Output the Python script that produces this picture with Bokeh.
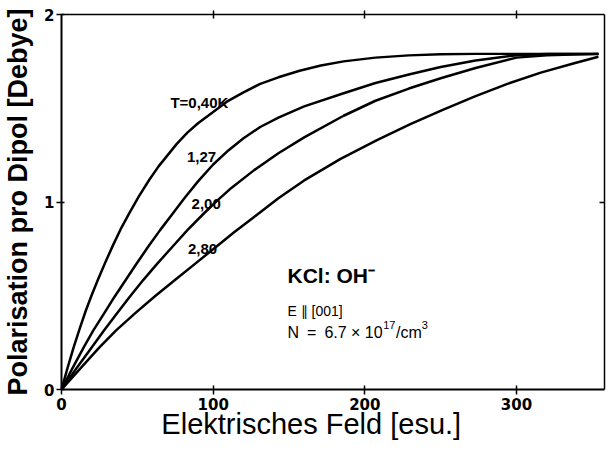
from bokeh.plotting import figure
from bokeh.models import Range1d, LinearAxis, FixedTicker, Label
from bokeh.embed import file_html
from bokeh.resources import INLINE

# Polarisation per dipole [Debye] vs. electric field [esu.] for KCl:OH-
E_T040 = [0, 4, 8, 12, 16, 20, 24, 29, 34, 39, 45, 51, 58, 64, 70, 76, 83, 90, 100, 109,
          120, 131, 143, 157, 171, 186, 207, 229, 250, 273, 300, 354]
P_T040 = [0, 0.115, 0.225, 0.325, 0.42, 0.505, 0.585, 0.68, 0.77, 0.855, 0.945, 1.03, 1.12,
          1.19, 1.25, 1.31, 1.37, 1.42, 1.48, 1.535, 1.585, 1.63, 1.665, 1.70, 1.728, 1.75,
          1.77, 1.782, 1.788, 1.79, 1.79, 1.79]

E_T127 = [0, 7, 15, 21, 28, 35, 42, 49, 57, 65, 73, 81, 90, 100, 110, 120, 131, 143, 160,
          186, 207, 229, 250, 273, 300, 320, 354]
P_T127 = [0, 0.11, 0.23, 0.315, 0.405, 0.495, 0.58, 0.665, 0.76, 0.85, 0.935, 1.02, 1.11,
          1.20, 1.275, 1.34, 1.40, 1.45, 1.51, 1.58, 1.635, 1.68, 1.72, 1.755, 1.783, 1.789, 1.79]

E_T200 = [0, 10, 20, 28, 36, 45, 54, 63, 73, 83, 94, 103, 112, 127, 143, 160, 186, 207, 229,
          250, 273, 300, 320, 354]
P_T200 = [0, 0.115, 0.225, 0.315, 0.40, 0.495, 0.585, 0.67, 0.76, 0.85, 0.94, 1.01, 1.075,
          1.17, 1.26, 1.345, 1.46, 1.54, 1.605, 1.66, 1.715, 1.77, 1.782, 1.79]

E_T280 = [0, 15, 25, 36, 49, 62, 75, 88, 101, 114, 127, 143, 160, 184, 208, 230, 251, 273,
          294, 316, 338, 354]
P_T280 = [0, 0.135, 0.225, 0.315, 0.41, 0.50, 0.585, 0.67, 0.755, 0.84, 0.92, 1.02, 1.115,
          1.23, 1.33, 1.415, 1.49, 1.565, 1.63, 1.69, 1.74, 1.775]

curve_labels = ["T=0,40K", "1,27", "2,00", "2,80"]
curve_label_E = [110, 102, 105, 102.6]
curve_label_P = [1.532, 1.239, 0.992, 0.752]

x_ticks = [0, 100, 200, 300]
y_ticks = [0, 1, 2]
top_ticks = [100, 200, 300]
right_ticks = [1]

x_title = "Elektrisches Feld [esu.]"
y_title = "Polarisation pro Dipol [Debye]"
sample_title = "KCl: OH\u207b"
field_dir = "E \u2225 [001]"
conc_parts = ["N\u2002=\u20026.7 \u00d7 10", "17", "/cm", "3"]

FONT = "Liberation Sans"
TICKFONT = "DejaVu Sans"

p = figure(width=606, height=444, x_range=Range1d(0, 358), y_range=Range1d(0, 2),
           output_backend="svg", toolbar_location=None,
           min_border_left=60, min_border_right=2, min_border_top=14, min_border_bottom=55)
p.outline_line_color = None
p.grid.visible = False
p.background_fill_color = "white"
p.border_fill_color = "white"

xa = p.xaxis[0]
xa.ticker = FixedTicker(ticks=x_ticks)
xa.axis_line_width = 2
xa.major_tick_in = 4
xa.major_tick_out = 5
xa.major_tick_line_width = 1.5
xa.minor_tick_line_color = None
xa.major_label_standoff = 3
xa.major_label_text_font = TICKFONT
xa.major_label_text_font_style = "bold"
xa.major_label_text_font_size = "15px"
xa.major_label_text_color = "black"
xa.axis_label = x_title + "\u2003\u2002"
xa.axis_label_text_font = FONT
xa.axis_label_text_font_style = "normal"
xa.axis_label_text_font_size = "29px"
xa.axis_label_text_color = "black"
xa.axis_label_standoff = -5

ya = p.yaxis[0]
ya.ticker = FixedTicker(ticks=y_ticks)
ya.axis_line_width = 2
ya.major_tick_in = 3
ya.major_tick_out = 5
ya.major_tick_line_width = 1.5
ya.minor_tick_line_color = None
ya.major_label_standoff = 2
ya.major_label_text_font = TICKFONT
ya.major_label_text_font_style = "bold"
ya.major_label_text_font_size = "15px"
ya.major_label_text_color = "black"
ya.axis_label = y_title
ya.axis_label_text_font = FONT
ya.axis_label_text_font_style = "bold"
ya.axis_label_text_font_size = "27px"
ya.axis_label_text_color = "black"
ya.axis_label_standoff = 8

top = LinearAxis(ticker=FixedTicker(ticks=top_ticks), axis_line_width=1.5,
                 major_tick_in=4, major_tick_out=4, major_tick_line_width=1.5,
                 minor_tick_line_color=None, major_label_text_font_size="1px",
                 major_label_text_color=None, major_label_standoff=0)
p.add_layout(top, "above")

right = LinearAxis(ticker=FixedTicker(ticks=right_ticks), axis_line_width=1.5,
                   major_tick_in=5, major_tick_out=0, major_tick_line_width=1.5,
                   minor_tick_line_color=None, major_label_text_font_size="1px",
                   major_label_text_color=None, major_label_standoff=0)
p.add_layout(right, "right")

for E, P in [(E_T040, P_T040), (E_T127, P_T127), (E_T200, P_T200), (E_T280, P_T280)]:
    p.line(E, P, line_color="black", line_width=2.5, line_join="round")

for t, ex, py in zip(curve_labels, curve_label_E, curve_label_P):
    p.add_layout(Label(x=ex, y=py, text=t, text_font=FONT, text_font_style="bold",
                       text_font_size="15px", text_align="right", text_baseline="alphabetic",
                       text_color="black"))

p.add_layout(Label(x=149, y=0.608, text=sample_title, text_font=FONT, text_font_style="bold",
                   text_font_size="21px", text_align="left", text_baseline="alphabetic",
                   text_color="black"))
p.add_layout(Label(x=149, y=0.421, text=field_dir, text_font=FONT,
                   text_font_size="14px", text_align="left", text_baseline="alphabetic",
                   text_color="black"))

# N = 6.7 x 10^17 / cm^3 composed with raised superscripts
conc_sizes = [16, 11, 16, 11]
conc_dx = [0, 95.7, 108.5, 134.3]
conc_dy = [0, 7, 0, 7]
for t, fs, dx, dy in zip(conc_parts, conc_sizes, conc_dx, conc_dy):
    p.add_layout(Label(x=149, y=0.306, x_offset=dx, y_offset=dy, text=t, text_font=FONT,
                       text_font_size=f"{fs}px", text_align="left",
                       text_baseline="alphabetic", text_color="black"))

open("out.html", "w").write(file_html(p, INLINE))
